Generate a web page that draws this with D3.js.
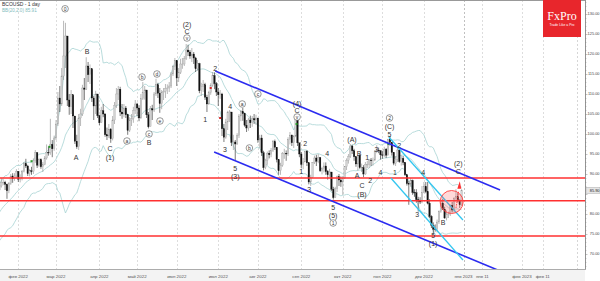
<!DOCTYPE html>
<html>
<head>
<meta charset="utf-8">
<script src="https://cdn.jsdelivr.net/npm/d3@7"></script>
<style>
  body { margin: 0; background: #fff; }
  svg { display: block; font-family: "Liberation Sans", Arial, sans-serif; }
</style>
</head>
<body>
<div id="chart"></div>
<script>
// month blocks, Dec 2021 .. Dec 2022 (bars per month)
var monthBars = [22, 21, 20, 23, 20, 21, 22, 21, 23, 22, 21, 22, 21];
var monthNames = ["дек 2021", "янв 2022", "фев 2022", "мар 2022", "апр 2022", "май 2022", "июн 2022",
                  "июл 2022", "авг 2022", "сен 2022", "окт 2022", "ноя 2022", "дек 2022"];
var futureTicks = [{ i: 279, label: "янв 2023" }, { i: 289, label: "янв 11" }, { i: 310, label: "фев 2023" }, { i: 321, label: "фев 11" }, { i: 339, label: "" }];

var closes = [
  68.9, 69.7, 69.9, 73.1, 75.4, 75.8, 74.4, 75.2, 74.4, 73.7, 73.9, 75.0, 73.5, 71.5, 74.0, 75.3, 76.9, 76.1, 78.6, 79.2, 79.3, 77.8,
  78.5, 79.5, 80.3, 81.5, 81.3, 80.4, 83.2, 84.2, 84.0, 85.6, 86.0, 87.0, 87.9, 87.9, 87.4, 85.8, 87.7, 89.5, 88.8, 89.5, 90.7,
  88.7, 89.0, 90.6, 92.6, 92.0, 90.1, 90.8, 90.6, 93.4, 95.3, 92.2, 93.6, 91.8, 92.3, 94.0, 95.4, 95.3, 97.4, 96.3, 99.0,
  102.5, 109.0, 107.5, 114.5, 119.5, 124.5, 108.5, 106.8, 109.8, 104.5, 98.2, 96.8, 104.0, 105.0, 111.5, 111.2, 117.0, 114.8, 116.3, 109.0, 107.0, 110.0, 104.6,
  102.8, 105.8, 105.0, 99.8, 99.5, 101.2, 98.8, 103.5, 107.2, 110.0, 111.2, 105.5, 105.0, 106.5, 104.8, 100.9, 103.5, 103.8, 105.9, 107.5,
  106.5, 104.0, 108.8, 110.4, 111.0, 104.8, 101.8, 106.3, 106.0, 110.0, 112.3, 110.2, 107.6, 110.3, 110.6, 111.4, 111.5, 112.0, 115.0, 116.8, 118.3,
  114.0, 115.3, 117.5, 117.5, 118.8, 121.0, 120.5, 119.5, 120.0, 119.0, 116.3, 117.6, 110.8, 111.9, 112.3, 109.2, 107.5, 110.3, 112.2, 114.6, 112.6, 110.5,
  109.8, 110.0, 101.3, 99.2, 103.0, 105.3, 105.5, 97.9, 98.0, 97.5, 99.6, 104.5, 105.6, 105.1, 102.2, 101.5, 103.5, 102.8, 103.8, 103.5, 104.0,
  98.5, 99.0, 95.3, 91.6, 93.4, 95.2, 94.8, 95.9, 98.1, 96.7, 93.6, 90.8, 92.2, 95.1, 95.2, 95.0, 98.7, 99.7, 97.8, 99.5, 103.6, 97.8, 95.0,
  92.4, 93.0, 95.7, 92.8, 88.0, 89.2, 92.8, 94.0, 93.2, 94.1, 90.8, 91.4, 92.0, 90.6, 89.8, 90.5, 86.2, 84.1, 86.3, 89.3, 88.5, 88.0,
  88.9, 91.8, 93.4, 94.4, 97.0, 95.8, 94.3, 92.5, 94.6, 91.6, 91.6, 90.0, 92.4, 92.4, 93.5, 93.3, 93.5, 95.7, 96.0, 95.8, 94.8,
  94.7, 96.2, 94.7, 98.6, 97.9, 95.4, 92.7, 93.7, 96.0, 93.1, 93.9, 92.9, 89.8, 87.6, 87.5, 88.4, 85.4, 85.3, 83.6, 83.2, 83.0, 85.4,
  86.9, 85.6, 82.7, 79.4, 77.2, 76.2, 76.1, 78.0, 80.7, 82.7, 81.2, 79.0, 79.8, 80.0, 82.2, 81.0, 83.9, 84.3, 83.3, 82.3, 85.9
];
var highs = [
  70.5, 70.8, 71.0, 73.5, 75.9, 76.4, 75.9, 75.8, 75.3, 74.6, 74.5, 75.6, 75.3, 73.5, 74.3, 75.6, 77.0, 76.9, 78.9, 79.6, 80.0, 79.4,
  79.2, 80.4, 80.9, 82.4, 82.2, 81.8, 83.6, 84.6, 84.9, 85.9, 86.6, 88.0, 89.0, 88.7, 88.3, 87.6, 88.0, 90.0, 90.2, 90.2, 91.2,
  90.5, 89.9, 91.0, 93.0, 93.8, 92.3, 91.3, 91.8, 93.9, 96.0, 95.5, 93.9, 93.9, 93.0, 94.5, 97.4, 96.9, 103.8, 98.5, 99.6,
  103.5, 110.5, 112.0, 116.5, 128.3, 127.8, 124.0, 110.0, 111.0, 109.5, 104.5, 99.8, 105.0, 106.3, 112.3, 114.0, 119.2, 118.0, 117.4, 116.0, 109.5, 110.8, 109.8,
  104.8, 106.8, 107.5, 105.2, 101.6, 102.5, 101.5, 104.5, 108.0, 111.5, 112.0, 111.8, 107.5, 107.5, 107.0, 105.0, 104.2, 105.0, 106.8, 108.5,
  107.8, 107.2, 110.0, 113.0, 112.0, 111.0, 105.5, 107.0, 107.3, 110.5, 113.8, 112.8, 111.5, 111.0, 111.5, 112.5, 112.4, 113.0, 115.5, 117.2, 119.0,
  118.5, 116.5, 118.8, 119.0, 119.5, 122.5, 122.3, 121.0, 121.5, 120.5, 119.3, 118.5, 117.8, 112.8, 113.5, 112.8, 109.8, 110.8, 112.7, 115.5, 115.4, 113.0,
  111.5, 111.0, 110.3, 102.5, 103.8, 105.8, 106.0, 105.5, 99.8, 98.5, 100.2, 105.0, 106.0, 106.5, 105.3, 103.5, 104.0, 104.6, 104.5, 105.0, 104.8,
  103.6, 99.8, 99.8, 95.8, 93.8, 95.6, 95.9, 96.5, 98.5, 98.6, 96.3, 93.6, 92.8, 95.5, 96.3, 95.9, 99.2, 100.5, 99.9, 99.7, 104.2, 103.4, 97.5,
  95.5, 94.0, 95.8, 96.0, 92.8, 89.8, 93.0, 94.6, 94.8, 95.0, 94.2, 91.8, 92.9, 92.9, 91.0, 91.3, 90.5, 86.8, 86.8, 89.6, 90.0, 89.4,
  89.5, 92.0, 93.9, 95.0, 97.5, 97.3, 96.3, 94.5, 94.8, 95.0, 92.6, 92.2, 93.0, 93.3, 93.7, 94.0, 94.1, 96.0, 97.2, 96.6, 96.0,
  95.8, 96.8, 96.5, 98.8, 99.5, 98.0, 95.5, 94.5, 96.6, 96.2, 94.7, 94.5, 92.9, 89.9, 88.3, 89.0, 88.6, 86.2, 86.2, 84.3, 84.2, 87.0,
  88.0, 88.0, 88.0, 83.7, 79.7, 77.9, 77.4, 78.6, 80.9, 83.3, 83.8, 81.8, 80.9, 80.6, 82.4, 83.0, 84.2, 86.2, 85.3, 83.7, 86.2
];
var lows = [
  67.8, 68.2, 69.0, 70.5, 73.0, 75.0, 74.0, 74.5, 73.8, 73.0, 73.0, 73.7, 73.3, 70.0, 71.5, 73.7, 75.2, 75.7, 76.0, 78.0, 78.8, 77.3,
  77.3, 77.9, 79.2, 79.8, 80.7, 79.8, 80.1, 82.9, 83.5, 83.3, 85.1, 85.7, 86.6, 87.2, 86.0, 83.8, 85.2, 87.3, 87.8, 88.3, 88.9,
  88.0, 87.9, 88.4, 90.4, 91.5, 89.5, 89.4, 89.8, 90.0, 92.8, 91.5, 91.8, 91.3, 90.5, 92.2, 93.6, 94.6, 94.8, 94.2, 95.8,
  98.5, 102.0, 105.5, 107.0, 113.5, 116.5, 107.0, 104.8, 105.0, 101.5, 97.5, 96.3, 96.0, 102.0, 104.5, 108.5, 111.0, 113.0, 112.5, 108.0, 103.5, 105.0, 104.0,
  102.2, 102.8, 104.2, 99.3, 98.5, 99.0, 97.8, 98.4, 102.5, 106.5, 108.5, 104.5, 103.8, 104.2, 104.0, 99.8, 100.5, 102.0, 102.8, 105.0,
  104.5, 103.2, 103.8, 108.5, 108.6, 104.0, 101.4, 102.0, 103.5, 105.5, 109.5, 109.0, 105.3, 106.2, 108.5, 109.0, 110.0, 110.5, 111.5, 114.5, 116.0,
  112.0, 113.0, 115.0, 116.3, 117.0, 118.5, 119.5, 118.8, 118.0, 117.5, 115.5, 115.8, 110.2, 109.5, 110.5, 108.5, 105.5, 107.3, 109.8, 111.8, 111.2, 109.5,
  107.0, 108.8, 99.5, 98.0, 98.8, 101.0, 103.0, 97.0, 96.0, 93.5, 97.3, 99.0, 103.2, 103.3, 101.8, 100.5, 100.8, 101.5, 101.8, 102.5, 102.3,
  97.8, 96.5, 94.5, 90.9, 91.2, 92.3, 93.9, 94.2, 95.5, 96.0, 92.9, 89.8, 89.8, 91.8, 93.8, 93.3, 94.5, 97.4, 97.0, 96.5, 99.2, 97.0, 94.2,
  91.5, 91.2, 93.5, 92.0, 87.4, 87.0, 89.0, 92.5, 92.0, 92.7, 90.5, 89.9, 90.4, 89.8, 88.6, 89.3, 85.7, 83.6, 84.0, 85.5, 87.0, 86.8,
  84.8, 88.8, 91.0, 92.6, 94.0, 95.0, 93.3, 91.8, 90.8, 91.3, 90.5, 89.2, 89.8, 91.5, 91.5, 92.0, 92.1, 93.2, 95.2, 95.2, 93.6,
  93.8, 94.3, 94.0, 94.7, 97.1, 94.6, 92.2, 92.0, 93.0, 92.8, 92.1, 92.2, 89.5, 87.1, 82.3, 86.8, 84.8, 84.3, 82.8, 80.6, 82.5, 82.7,
  85.2, 85.2, 82.4, 79.0, 76.5, 75.0, 75.6, 75.4, 77.5, 80.3, 81.0, 78.8, 78.4, 79.0, 79.5, 80.4, 80.4, 83.1, 82.9, 81.5, 82.0
];

// support / resistance levels and trend lines (bar index, price)
var levels = [89.0, 83.3, 74.5];
var channelLines = [
  { color: "#2b2bf0", w: 1.6, pts: [[147.4, 115.75], [298.4, 86.0]] },
  { color: "#2b2bf0", w: 1.6, pts: [[146.8, 95.5], [298.4, 65.75]] },
  { color: "#33c6f0", w: 1.3, pts: [[239.4, 99.25], [278.7, 78.5]] },
  { color: "#33c6f0", w: 1.3, pts: [[240.5, 89.0], [278.7, 68.5]] }
];

// wave labels: [bar index, price, text, circled]
var waveLabels = [
  [67.8, 131.3, "0", true], [79.4, 120.75, "B"], [73.6, 94.25, "A"], [91.6, 96.5, "C"], [91.6, 94.25, "(1)"],
  [100.6, 98.25, "a", true], [108.6, 114.25, "b", true], [112.3, 100, "c", true], [112.3, 98, "B"],
  [116.5, 115, "d", true], [118.1, 103.25, "e", true],
  [132.4, 127.5, "(2)"], [132.4, 125.75, "C"], [132.4, 124, "v", true],
  [147.4, 116.5, "2"], [142.1, 103.75, "1"], [152.6, 96.25, "3"], [155.3, 107, "4"], [158, 91.5, "5"], [158, 89.5, "(3)"],
  [161.7, 107.5, "a", true], [165.5, 96.5, "b", true], [170, 110, "c", true],
  [190.8, 107.75, "(4)"], [190.8, 106, "C"], [190.8, 104.25, "v", true],
  [193, 90.75, "1"], [195.1, 97.75, "2"], [197.2, 86.25, "3"], [206.8, 95.25, "4"],
  [209.9, 81.75, "5"], [209.9, 79.75, "(5)"], [209.9, 77.75, "1", true],
  [219.9, 98.75, "(A)"], [223.6, 95.25, "B"], [227.9, 94.25, "1"], [222.6, 89.75, "A"], [229.5, 88.5, "2"],
  [225.2, 87.25, "C"], [225.2, 85, "(B)"], [232.9, 96.25, "3"], [235, 90.5, "4"],
  [239.8, 104, "2", true], [239.8, 101.9, "(C)"], [239.8, 99.8, "5"], [244.9, 97.25, "2"], [242.7, 90.5, "1"],
  [254.5, 80, "3"], [257.6, 90.5, "4"], [262.9, 74.75, "5"], [262.9, 72.75, "(1)"], [268.2, 78, "B"],
  [276.2, 92.75, "(2)"], [276.2, 90.75, "C"]
];

// small signal marks on candles: [bar index, price, colour]
var signalMarks = [[50, 93.2, "#2ca02c"], [59.5, 96.8, "#2ca02c"], [145, 111.5, "#d62728"], [150, 104.0, "#d62728"],
                   [190.5, 102.5, "#2ca02c"], [239.2, 97.5, "#2ca02c"]];

var yTicks = [130, 125, 120, 115, 110, 105, 100, 95, 90, 80, 75, 70];

var W = 600, H = 281, plotR = 585, plotB = 269;

var svg = d3.select("#chart").append("svg")
    .attr("width", W)
    .attr("height", H);

var x = d3.scaleLinear().domain([43, 279]).range([18.3, 463.5]);
var y = d3.scaleLinear().domain([66.25, 133.5]).range([plotB, 0]);

svg.append("defs").append("clipPath").attr("id", "plotClip")
  .append("rect").attr("x", 0).attr("y", 0).attr("width", plotR).attr("height", plotB);

var plot = svg.append("g").attr("clip-path", "url(#plotClip)");

// month grid
var starts = [];
monthBars.reduce(function (acc, n, k) { starts.push({ i: acc, label: monthNames[k] }); return acc + n; }, 0);
var ticks = starts.slice(2).concat(futureTicks);

plot.selectAll(".vgrid")
  .data(ticks.map(d => d.i).concat([339]))
  .enter().append("line")
    .attr("class", "vgrid")
    .attr("x1", d => Math.round(x(d)) + 0.5)
    .attr("x2", d => Math.round(x(d)) + 0.5)
    .attr("y1", 0).attr("y2", plotB)
    .attr("stroke", d => d === 279 ? "#b0b0b0" : "#d4d4d4")
    .attr("stroke-width", 0.8)
    .attr("stroke-dasharray", "2,2");

// Bollinger bands (20, 2.0)
var bands = [];
for (var i = 19; i < closes.length; i++) {
  var w = closes.slice(i - 19, i + 1);
  var m = d3.mean(w);
  var sd = Math.sqrt(d3.mean(w, v => (v - m) * (v - m)));
  bands.push({ i: i, mid: m, up: m + 2 * sd, lo: m - 2 * sd });
}
["up", "mid", "lo"].forEach(function (k) {
  plot.append("path")
    .datum(bands)
    .attr("fill", "none")
    .attr("stroke", "#a7d3d3")
    .attr("stroke-width", 0.8)
    .attr("d", d3.line().x(d => x(d.i)).y(d => y(d[k])));
});

// candles
var bars = closes.map(function (c, i) {
  return { i: i, o: i ? closes[i - 1] : c, c: c, h: highs[i], l: lows[i] };
});
var candle = plot.selectAll(".candle")
  .data(bars)
  .enter().append("g")
    .attr("class", "candle");

candle.append("line")
  .attr("x1", d => x(d.i)).attr("x2", d => x(d.i))
  .attr("y1", d => y(d.h)).attr("y2", d => y(d.l))
  .attr("stroke", d => d.c >= d.o ? "#8a8a8a" : "#222")
  .attr("stroke-width", 0.6);

candle.append("rect")
  .attr("x", d => x(d.i) - 0.75)
  .attr("width", 1.5)
  .attr("y", d => y(Math.max(d.o, d.c)))
  .attr("height", d => Math.max(0.6, Math.abs(y(d.o) - y(d.c))))
  .attr("fill", d => d.c >= d.o ? "#d2d2d2" : "#111")
  .attr("stroke", d => d.c >= d.o ? "#9a9a9a" : "#111")
  .attr("stroke-width", 0.3);

plot.selectAll(".sig")
  .data(signalMarks)
  .enter().append("rect")
    .attr("x", d => x(d[0]) - 1)
    .attr("y", d => y(d[1]) - 1)
    .attr("width", 2).attr("height", 2)
    .attr("fill", d => d[2]);

// horizontal levels
plot.selectAll(".level")
  .data(levels)
  .enter().append("line")
    .attr("x1", 0).attr("x2", plotR)
    .attr("y1", d => y(d)).attr("y2", d => y(d))
    .attr("stroke", "#ff3030")
    .attr("stroke-width", 1.4);

// trend channels
plot.selectAll(".trend")
  .data(channelLines)
  .enter().append("line")
    .attr("x1", d => x(d.pts[0][0])).attr("y1", d => y(d.pts[0][1]))
    .attr("x2", d => x(d.pts[1][0])).attr("y2", d => y(d.pts[1][1]))
    .attr("stroke", d => d.color)
    .attr("stroke-width", d => d.w);

// target circle and arrow
plot.append("circle")
  .attr("cx", x(272.7)).attr("cy", y(83))
  .attr("r", 11.5)
  .attr("fill", "rgba(255,80,80,0.22)")
  .attr("stroke", "#ff4040")
  .attr("stroke-width", 0.9);

plot.append("line")
  .attr("x1", x(275)).attr("y1", y(81.5))
  .attr("x2", x(276.5)).attr("y2", y(85.8))
  .attr("stroke", "#ff3030").attr("stroke-width", 0.8).attr("stroke-dasharray", "1.5,1");
plot.append("path")
  .attr("d", d3.line()([[x(276.8) - 2, y(86.3)], [x(276.8) + 2, y(86.3)], [x(277), y(88.2)]]))
  .attr("fill", "#ff3030");

// wave labels
var lab = plot.selectAll(".wave")
  .data(waveLabels)
  .enter().append("g")
    .attr("transform", d => "translate(" + x(d[0]) + "," + y(d[1]) + ")");
lab.filter(d => d[3]).append("circle")
  .attr("r", 3.3)
  .attr("fill", "#fff")
  .attr("stroke", "#555")
  .attr("stroke-width", 0.6);
lab.append("text")
  .text(d => d[2])
  .attr("text-anchor", "middle")
  .attr("dy", d => d[3] ? "1.7" : "2.5")
  .style("font-size", d => d[3] ? "5px" : "7px")
  .style("fill", "#333");

// right price axis
svg.append("line")
  .attr("x1", plotR + 0.5).attr("x2", plotR + 0.5)
  .attr("y1", 0).attr("y2", plotB)
  .attr("stroke", "#777").attr("stroke-width", 0.8);
svg.selectAll(".minor")
  .data(d3.range(67, 134))
  .enter().append("line")
    .attr("x1", plotR).attr("x2", d => plotR + (d % 5 === 0 ? 2.5 : 1.4))
    .attr("y1", d => Math.round(y(d)) + 0.5).attr("y2", d => Math.round(y(d)) + 0.5)
    .attr("stroke", "#888").attr("stroke-width", 0.5);
svg.selectAll(".ylab")
  .data(yTicks)
  .enter().append("text")
    .text(d => d.toFixed(2))
    .attr("x", 599.5)
    .attr("y", d => y(d) + 1.4)
    .attr("text-anchor", "end")
    .style("font-size", "3.9px")
    .style("fill", "#444");

// last price box
var last = closes[closes.length - 1];
svg.append("rect")
  .attr("x", plotR + 1).attr("y", y(last) - 3)
  .attr("width", 14).attr("height", 6)
  .attr("fill", "#e6e6e6").attr("stroke", "#999").attr("stroke-width", 0.4);
svg.append("text")
  .text(last.toFixed(2))
  .attr("x", 599.5).attr("y", y(last) + 1.4)
  .attr("text-anchor", "end")
  .style("font-size", "3.9px").style("fill", "#222");

// bottom time axis
svg.append("rect")
  .attr("x", 0).attr("y", plotB).attr("width", plotR).attr("height", H - plotB)
  .attr("fill", "#f3f3f3");
svg.append("line")
  .attr("x1", 0).attr("x2", plotR + 1)
  .attr("y1", plotB + 0.5).attr("y2", plotB + 0.5)
  .attr("stroke", "#999").attr("stroke-width", 0.8);
svg.selectAll(".xlab")
  .data(ticks.filter(d => d.label))
  .enter().append("text")
    .text(d => d.label)
    .attr("x", d => x(d.i))
    .attr("y", 278)
    .attr("text-anchor", "middle")
    .style("font-size", "4.4px")
    .style("fill", "#555");

// top frame
svg.append("line")
  .attr("x1", 0).attr("x2", plotR).attr("y1", 0.5).attr("y2", 0.5)
  .attr("stroke", "#999").attr("stroke-width", 1);

// title
svg.append("text").text("BCOUSD - 1 day")
  .attr("x", 2).attr("y", 6)
  .style("font-size", "5px").style("fill", "#333");
svg.append("text").text("BB(20,2.0) 85.91")
  .attr("x", 2).attr("y", 12)
  .style("font-size", "4.6px").style("fill", "#7fbcbc");

// logo
var logo = svg.append("g");
logo.append("rect")
  .attr("x", 543).attr("y", 0).attr("width", 38).attr("height", 37)
  .attr("fill", "#e8262c");
logo.append("text").text("FxPro")
  .attr("x", 562).attr("y", 20)
  .attr("text-anchor", "middle")
  .style("font-family", "'Liberation Serif', 'DejaVu Serif', serif")
  .style("font-size", "12px")
  .style("fill", "#fff");
logo.append("text").text("Trade Like a Pro")
  .attr("x", 562).attr("y", 26)
  .attr("text-anchor", "middle")
  .style("font-size", "3.4px")
  .style("fill", "#fff");
</script>
</body>
</html>
